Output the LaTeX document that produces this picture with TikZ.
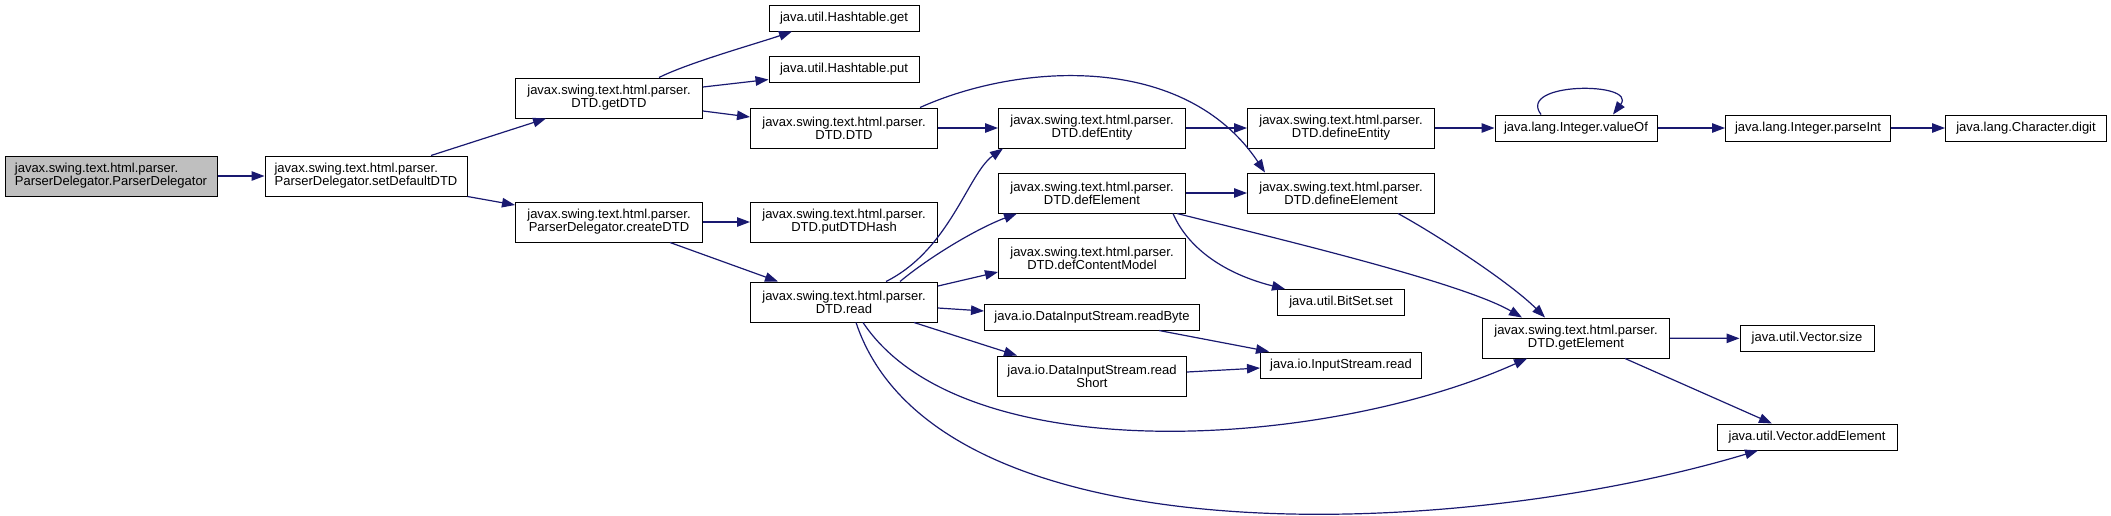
\documentclass[tikz,border=0pt]{standalone}
\usepackage{fontspec}
\setmainfont{Liberation Sans}
\usetikzlibrary{arrows.meta}
\definecolor{callblue}{HTML}{191970}
\definecolor{rootgray}{HTML}{BFBFBF}
\tikzset{
  func/.style={draw=black, line width=1pt, fill=white, inner sep=0pt, minimum height=26pt, font=\fontsize{13}{13}\selectfont, align=center},
  func2/.style={func, minimum height=40pt, minimum width=187pt},
  call/.style={draw=callblue, line width=1.2pt, -{Triangle[length=13pt,width=9.5pt]}}
}
\begin{document}
\begin{tikzpicture}[x=1pt,y=-1pt]
\useasboundingbox (0,0) rectangle (2111,515);
\node[func2, fill=rootgray, align=left, minimum width=212pt] (pd) at (111,176) {javax.swing.text.html.parser.\\ParserDelegator.ParserDelegator};
\node[func2, align=left, minimum width=202pt] (sdd) at (366,176) {javax.swing.text.html.parser.\\ParserDelegator.setDefaultDTD};
\node[func2] (gdtd) at (609,98) {javax.swing.text.html.parser.\\DTD.getDTD};
\node[func2] (cdtd) at (609,222) {javax.swing.text.html.parser.\\ParserDelegator.createDTD};
\node[func, minimum width=150pt] (hget) at (844,18) {java.util.Hashtable.get};
\node[func, minimum width=150pt] (hput) at (844,69.5) {java.util.Hashtable.put};
\node[func2] (dtd) at (844,128) {javax.swing.text.html.parser.\\DTD.DTD};
\node[func2] (puth) at (844,222) {javax.swing.text.html.parser.\\DTD.putDTDHash};
\node[func2] (rd) at (844,302) {javax.swing.text.html.parser.\\DTD.read};
\node[func2] (dent) at (1092,128) {javax.swing.text.html.parser.\\DTD.defEntity};
\node[func2] (delem) at (1092,193) {javax.swing.text.html.parser.\\DTD.defElement};
\node[func2] (dcm) at (1092,258) {javax.swing.text.html.parser.\\DTD.defContentModel};
\node[func, minimum width=215pt] (rbyte) at (1092,317) {java.io.DataInputStream.readByte};
\node[func2, minimum width=189pt] (rshort) at (1092,376) {java.io.DataInputStream.read\\Short};
\node[func2] (defent) at (1341,128) {javax.swing.text.html.parser.\\DTD.defineEntity};
\node[func2] (defel) at (1341,193) {javax.swing.text.html.parser.\\DTD.defineElement};
\node[func, minimum width=127pt] (bset) at (1341,302.5) {java.util.BitSet.set};
\node[func, minimum width=161pt] (isread) at (1341,365) {java.io.InputStream.read};
\node[func, minimum width=162pt] (valof) at (1576,128) {java.lang.Integer.valueOf};
\node[func2] (gel) at (1576,338) {javax.swing.text.html.parser.\\DTD.getElement};
\node[func, minimum width=165pt] (pint) at (1808,128) {java.lang.Integer.parseInt};
\node[func, minimum width=134pt] (vsize) at (1807,338.5) {java.util.Vector.size};
\node[func, minimum width=180pt] (vadd) at (1807,437) {java.util.Vector.addElement};
\node[func, minimum width=161pt] (cdig) at (2026,128) {java.lang.Character.digit};
\draw[call] (pd) -- (sdd);
\draw[call] ([xshift=65]sdd.north) -- ([xshift=-63]gdtd.south);
\draw[call] (sdd.south east) -- ([yshift=17]cdtd.west);
\draw[call] ([xshift=50]gdtd.north) .. controls +(30,-15) and +(-35,12) .. ([xshift=-52]hget.south);
\draw[call] ([yshift=11]gdtd.east) -- ([yshift=-10]hput.west);
\draw[call] ([yshift=-13]gdtd.east) -- ([yshift=11]dtd.west);
\draw[call] (dtd) -- (dent);
\draw[call] ([xshift=76]dtd.north) .. controls +(100,-45) and +(-80,-120) .. ([xshift=-76]defel.north);
\draw[call] (dent) -- (defent);
\draw[call] (defent) -- (valof);
\draw[call] ([xshift=-35]valof.north) .. controls +(-25,-33) and +(25,-33) .. ([xshift=37]valof.north);
\draw[call] (valof) -- (pint);
\draw[call] (pint) -- (cdig);
\draw[call] (cdtd) -- (puth);
\draw[call] ([xshift=61]cdtd.south) -- ([xshift=-66]rd.north);
\draw[call] ([xshift=42]rd.north) .. controls +(64,-32) and +(-35,25) .. ([xshift=-89]dent.south);
\draw[call] ([xshift=56]rd.north) .. controls +(30,-25) and +(-40,15) .. ([xshift=-75]delem.south);
\draw[call] ([yshift=16]rd.east) -- ([yshift=-14]dcm.west);
\draw[call] ([yshift=-6]rd.east) -- ([yshift=6]rbyte.west);
\draw[call] ([xshift=70]rd.south) -- ([xshift=-75]rshort.north);
\draw[call] ([xshift=19]rd.south) .. controls +(100,150) and +(-200,90) .. ([xshift=-49]gel.south);
\draw[call] ([xshift=12]rd.south) .. controls +(80,240) and +(-300,90) .. ([xshift=-49]vadd.south);
\draw[call] (delem) -- (defel);
\draw[call] ([xshift=81]delem.south) .. controls +(15,35) and +(-60,-15) .. ([xshift=-56]bset.north);
\draw[call] ([xshift=-9]delem.south east) .. controls +(100,25) and +(-60,-35) .. ([xshift=-54]gel.north);
\draw[call] ([xshift=57]defel.south) .. controls +(40,22) and +(-35,-35) .. ([xshift=-31]gel.north);
\draw[call] ([xshift=67]rbyte.south) -- ([xshift=-72]isread.north);
\draw[call] ([yshift=4]rshort.east) -- ([yshift=-3]isread.west);
\draw[call] (gel) -- (vsize);
\draw[call] ([xshift=49]gel.south) -- ([xshift=-35]vadd.north);
\end{tikzpicture}
\end{document}
